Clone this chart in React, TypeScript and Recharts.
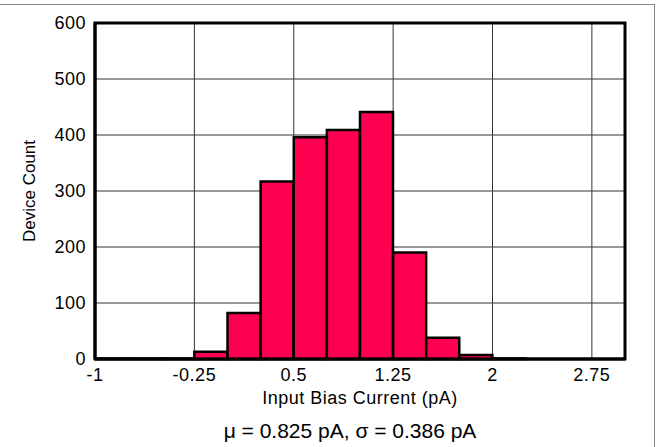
import React from 'react';
import { BarChart, Bar, XAxis, YAxis, CartesianGrid, ReferenceArea } from 'recharts';

const binCenters = [-0.875, -0.625, -0.375, -0.125, 0.125, 0.375, 0.625, 0.875, 1.125, 1.375, 1.625, 1.875, 2.125, 2.375, 2.625, 2.875];
const deviceCounts = [1, 1, 1, 13, 82, 317, 396, 409, 441, 190, 38, 7, 1, 0, 0, 0];
const xTicks = [-1, -0.25, 0.5, 1.25, 2, 2.75];
const yTicks = [0, 100, 200, 300, 400, 500, 600];
const xTitle = 'Input Bias Current (pA)';
const yTitle = 'Device Count';
const caption = 'μ = 0.825 pA, σ = 0.386 pA';

const data = binCenters.map((c, i) => ({ center: c, count: deviceCounts[i] }));

const FONT = 'Arial, "Liberation Sans", Helvetica, sans-serif';

export default function App() {
  return (
    <div style={{ position: 'absolute', left: 0, top: 0, width: 660, height: 447, background: '#fff', fontFamily: FONT }}>
      <div style={{ position: 'absolute', left: 0, top: 4, width: 655, height: 443, borderTop: '1.5px solid #888', borderRight: '1.5px solid #888', boxSizing: 'border-box' }} />
      <BarChart width={660} height={447} data={data} margin={{ top: 23, right: 35, bottom: 0, left: 0 }} barCategoryGap={0} barGap={0}>
        <CartesianGrid stroke="#333" strokeWidth={1} />
        <XAxis
          type="number"
          dataKey="center"
          domain={[-1, 3]}
          ticks={xTicks}
          interval={0}
          allowDataOverflow
          height={88}
          tickSize={0}
          tickMargin={9}
          axisLine={{ stroke: '#000', strokeWidth: 3 }}
          tick={{ fill: '#000', fontSize: 18, fontFamily: FONT, letterSpacing: 0.5 }}
          label={{
            content: () => (
              <g>
                <text x={360} y={404} textAnchor="middle" fontSize={18} letterSpacing={0.5} fill="#000" fontFamily={FONT}>{xTitle}</text>
                <text x={350} y={438} textAnchor="middle" fontSize={21} fill="#000" fontFamily={FONT}>{caption}</text>
              </g>
            ),
          }}
        />
        <YAxis
          type="number"
          domain={[0, 600]}
          ticks={yTicks}
          interval={0}
          width={95}
          tickSize={0}
          tickMargin={9}
          axisLine={{ stroke: '#000', strokeWidth: 3 }}
          tick={{ fill: '#000', fontSize: 18, fontFamily: FONT, letterSpacing: 0.5 }}
          label={{
            content: () => (
              <text x={35} y={191} transform="rotate(-90 35 191)" textAnchor="middle" fontSize={17} fill="#000" fontFamily={FONT}>{yTitle}</text>
            ),
          }}
        />
        <Bar dataKey="count" fill="#FF0050" stroke="#000" strokeWidth={2.5} isAnimationActive={false} />
        <ReferenceArea x1={-1} x2={3} y1={0} y2={600} fill="none" stroke="#000" strokeWidth={3} />
      </BarChart>
    </div>
  );
}
